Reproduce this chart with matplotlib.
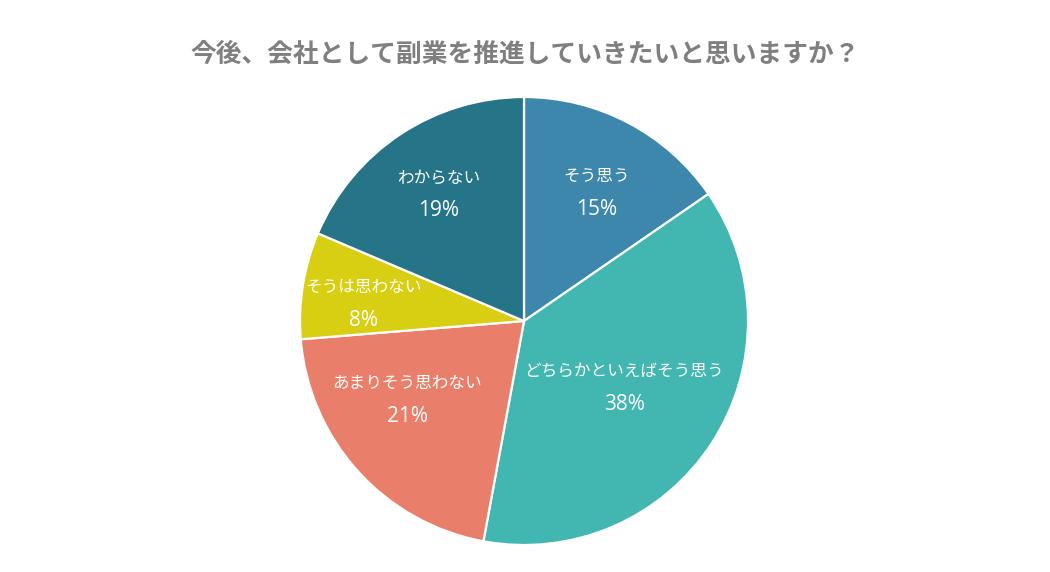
import numpy as np
import matplotlib.pyplot as plt

plt.rcParams['font.family'] = ['Noto Sans CJK JP', 'DejaVu Sans']

categories = ['そう思う', 'どちらかといえばそう思う', 'あまりそう思わない', 'そうは思わない', 'わからない']
shares = [15.4, 37.5, 20.8, 7.7, 18.6]
pct_labels = ['15%', '38%', '21%', '8%', '19%']
colors = ['#3E87AC', '#42B6B0', '#E97F6B', '#D8CE12', '#267487']

# label placement (fraction of radius, angle nudge in degrees)
label_radius = [0.667, 0.533, 0.625, 0.72, 0.69]
label_nudge = [-1.5, 0, -8.8, 2.4, 0]

fig = plt.figure(figsize=(10.5, 5.72), dpi=100)
ax = fig.add_axes([0.2857, 0.0472, 0.4267, 0.7832])

wedges, _ = ax.pie(shares, colors=colors, startangle=90, counterclock=False, radius=1,
                   wedgeprops=dict(edgecolor='white', linewidth=1.6))

for w, name, pct, r, nd in zip(wedges, categories, pct_labels, label_radius, label_nudge):
    mid = np.deg2rad((w.theta1 + w.theta2) / 2 + nd)
    x, y = r * np.cos(mid), r * np.sin(mid) - 0.01
    ax.text(x, y + 0.074, name, ha='center', va='center', color='white', fontsize=12)
    ax.text(x, y - 0.074, pct, ha='center', va='center', color='white', fontsize=15,
            family=['Open Sans', 'DejaVu Sans'])

ax.set_xlim(-1, 1)
ax.set_ylim(-1, 1)
ax.set_aspect('equal')
ax.axis('off')

fig.text(0.5, 0.906, '今後、会社として副業を推進していきたいと思いますか？', ha='center', va='center',
         fontsize=18.5, fontweight='bold', color='#7F7F7F')

fig.savefig('out.png', dpi=100)
